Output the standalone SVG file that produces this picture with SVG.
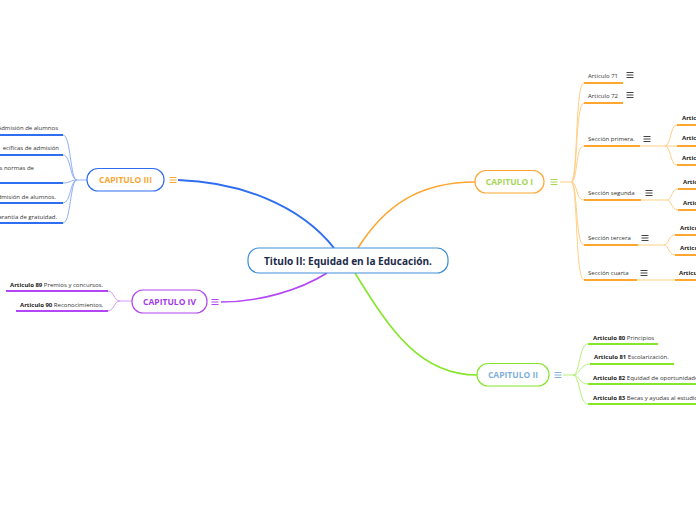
<svg xmlns="http://www.w3.org/2000/svg" width="696" height="520" viewBox="0 0 696 520">
<defs>
<style>
text{font-family:"Open Sans","Noto Sans","Liberation Sans",sans-serif;}
.t{font-size:6px;fill:#333;}
.b{font-weight:bold;fill:#222;}
.cap{font-size:8.5px;font-weight:bold;}
.ulO{stroke:#ffa630;stroke-width:2;fill:none;}
.lnO{stroke:#ffcf85;stroke-width:1;fill:none;}
.ulG{stroke:#86e62b;stroke-width:2;fill:none;}
.lnG{stroke:#b8f07a;stroke-width:1;fill:none;}
.ulB{stroke:#2f6ef0;stroke-width:2;fill:none;}
.lnB{stroke:#8fb0f5;stroke-width:1;fill:none;}
.ulP{stroke:#b347f5;stroke-width:2;fill:none;}
.lnP{stroke:#d49cf9;stroke-width:1;fill:none;}
.ic{stroke-width:1;fill:none;}
</style>
<g id="ham"><path d="M-3.5,-2.5h7M-3.5,0h7M-3.5,2.5h7"/></g>
</defs>
<rect width="696" height="520" fill="#fff"/>

<g id="connectors">
<path d="M334,248 C300,205 240,182 178,180" stroke="#2f6ef0" stroke-width="2" fill="none"/>
<path d="M358,248 C385,205 420,182 475,182" stroke="#ffa630" stroke-width="1.6" fill="none"/>
<path d="M327,273 C300,290 260,302 221,302" stroke="#b347f5" stroke-width="1.6" fill="none"/>
<path d="M355,273 C390,330 420,375 477,375" stroke="#86e62b" stroke-width="1.6" fill="none"/>
<path class="lnO" d="M560,182 H571"/>
<path class="lnO" d="M571,182 C578,182 575,83 584,83"/>
<path class="lnO" d="M571,182 C578,182 575,103 584,103"/>
<path class="lnO" d="M571,182 C578,182 575,146 584,146"/>
<path class="lnO" d="M571,182 C578,182 575,200 584,200"/>
<path class="lnO" d="M571,182 C578,182 575,245 584,245"/>
<path class="lnO" d="M571,182 C578,182 575,280 584,280"/>
<path class="lnO" d="M640,146 H665"/>
<path class="lnO" d="M665,146 C671,146 670,125 677,125"/>
<path class="lnO" d="M665,146 H677"/>
<path class="lnO" d="M665,146 C671,146 670,165 677,165"/>
<path class="lnO" d="M641,200 H667"/>
<path class="lnO" d="M667,200 C672,200 671,189 678,189"/>
<path class="lnO" d="M667,200 C672,200 671,210 678,210"/>
<path class="lnO" d="M638,245 H664"/>
<path class="lnO" d="M664,245 C669,245 668,235 675,235"/>
<path class="lnO" d="M664,245 C669,245 668,255 675,255"/>
<path class="lnO" d="M637,280 H675"/>
<path class="lnG" d="M563,375 H573"/>
<path class="lnG" d="M573,375 C580,375 579,344 588,344"/>
<path class="lnG" d="M573,375 C580,375 580,364 590,364"/>
<path class="lnG" d="M573,375 C580,375 579,384 588,384"/>
<path class="lnG" d="M573,375 C580,375 579,404 588,404"/>
<path class="lnB" d="M87,180 H77"/>
<path class="lnB" d="M77,180 C70,180 71,135 63,135"/>
<path class="lnB" d="M77,180 C70,180 71,155 63,155"/>
<path class="lnB" d="M77,180 C70,180 71,183 63,183"/>
<path class="lnB" d="M77,180 C70,180 71,203 63,203"/>
<path class="lnB" d="M77,180 C70,180 71,223 63,223"/>
<path class="lnP" d="M132,301 H120"/>
<path class="lnP" d="M120,301 C114,301 114,291 108,291"/>
<path class="lnP" d="M120,301 C114,301 114,311 108,311"/>
</g>

<g id="central">
<rect x="248" y="248" width="200" height="25" rx="11" fill="#fff" stroke="#3f8fd8" stroke-width="1.2"/>
<text x="348" y="264.5" text-anchor="middle" font-size="10" font-weight="bold" fill="#1b2a4a" textLength="168" lengthAdjust="spacingAndGlyphs">Titulo II: Equidad en la Educación.</text>
</g>

<g id="cap1">
<rect x="475" y="170.5" width="69" height="22.5" rx="11" fill="#fff" stroke="#ffa630" stroke-width="1.2"/>
<text class="cap" x="509.5" y="185" text-anchor="middle" fill="#a8d65a">CAPITULO I</text>
<use href="#ham" x="554" y="182" stroke="#a8d65a" class="ic"/>
</g>
<g id="a71"><text class="t" x="588" y="77.5">Articulo 71</text><path class="ulO" d="M584,83H623"/><use href="#ham" x="630" y="75" stroke="#444" class="ic"/></g>
<g id="a72"><text class="t" x="588" y="97.5">Articulo 72</text><path class="ulO" d="M584,103H623"/><use href="#ham" x="630" y="95" stroke="#444" class="ic"/></g>
<g id="s1"><text class="t" x="588" y="140.5">Sección primera.</text><path class="ulO" d="M584,146H640"/><use href="#ham" x="647" y="139" stroke="#444" class="ic"/></g>
<g id="s1a"><text class="t b" x="682" y="120">Artic</text><path class="ulO" d="M677,125H696"/></g>
<g id="s1b"><text class="t b" x="682" y="140">Artic</text><path class="ulO" d="M677,146H696"/></g>
<g id="s1c"><text class="t b" x="682" y="160">Artic</text><path class="ulO" d="M677,165H696"/></g>
<g id="s2"><text class="t" x="588" y="194.5">Sección segunda</text><path class="ulO" d="M584,200H641"/><use href="#ham" x="649" y="193" stroke="#444" class="ic"/></g>
<g id="s2a"><text class="t b" x="683" y="184">Artic</text><path class="ulO" d="M678,189H696"/></g>
<g id="s2b"><text class="t b" x="683" y="205">Artic</text><path class="ulO" d="M678,210H696"/></g>
<g id="s3"><text class="t" x="588" y="240">Sección tercera</text><path class="ulO" d="M584,245H638"/><use href="#ham" x="645" y="238" stroke="#444" class="ic"/></g>
<g id="s3a"><text class="t b" x="680" y="230">Articu</text><path class="ulO" d="M675,235H696"/></g>
<g id="s3b"><text class="t b" x="680" y="250">Articu</text><path class="ulO" d="M675,255H696"/></g>
<g id="s4"><text class="t" x="588" y="275">Sección cuarta</text><path class="ulO" d="M584,280H637"/><use href="#ham" x="644" y="273" stroke="#444" class="ic"/></g>
<g id="s4a"><text class="t b" x="679" y="275">Articu</text><path class="ulO" d="M675,280H696"/></g>

<g id="cap2">
<rect x="477" y="363.5" width="72" height="22.5" rx="11" fill="#fff" stroke="#86e62b" stroke-width="1.2"/>
<text class="cap" x="513" y="378" text-anchor="middle" fill="#7fb0dc">CAPITULO II</text>
<use href="#ham" x="558" y="375" stroke="#7fb0dc" class="ic"/>
</g>
<g id="a80"><text class="t" x="593" y="339.5"><tspan class="b">Articulo 80</tspan> Principios</text><path class="ulG" d="M588,344H658"/></g>
<g id="a81"><text class="t" x="594" y="359"><tspan class="b">Articulo 81</tspan> Escolarización.</text><path class="ulG" d="M590,364H674"/></g>
<g id="a82"><text class="t" x="593" y="379.5"><tspan class="b">Articulo 82</tspan> Equidad de oportunidade</text><path class="ulG" d="M588,384H696"/></g>
<g id="a83"><text class="t" x="593" y="399.5"><tspan class="b">Articulo 83</tspan> Becas y ayudas al estudio</text><path class="ulG" d="M588,404H696"/></g>

<g id="cap3">
<rect x="87" y="168.5" width="77" height="22.5" rx="11" fill="#fff" stroke="#2f6ef0" stroke-width="1.2"/>
<text class="cap" x="125.5" y="183" text-anchor="middle" fill="#f5a735">CAPITULO III</text>
<use href="#ham" x="173" y="180" stroke="#f5a735" class="ic"/>
</g>
<g id="c3a"><text class="t" x="58" y="130" text-anchor="end">Admisión de alumnos</text><path class="ulB" d="M0,135H63"/></g>
<g id="c3b"><text class="t" x="59" y="150" text-anchor="end">ecíficas de admisión</text><path class="ulB" d="M0,155H63"/></g>
<g id="c3c"><text class="t" x="34" y="170" text-anchor="end">s normas de</text><path class="ulB" d="M0,183H63"/></g>
<g id="c3d"><text class="t" x="56" y="199" text-anchor="end">dmisión de alumnos.</text><path class="ulB" d="M0,203H63"/></g>
<g id="c3e"><text class="t" x="57" y="219" text-anchor="end">arantía de gratuidad.</text><path class="ulB" d="M0,223H63"/></g>

<g id="cap4">
<rect x="132" y="290" width="75" height="23" rx="11" fill="#fff" stroke="#b347f5" stroke-width="1.2"/>
<text class="cap" x="169.5" y="304.5" text-anchor="middle" fill="#a33de8">CAPITULO IV</text>
<use href="#ham" x="215" y="302" stroke="#b347f5" class="ic"/>
</g>
<g id="a89"><text class="t" x="10" y="287"><tspan class="b">Articulo 89</tspan> Premios y concursos.</text><path class="ulP" d="M6,291H108"/></g>
<g id="a90"><text class="t" x="20" y="306.5"><tspan class="b">Articulo 90</tspan> Reconocimientos.</text><path class="ulP" d="M16,311H108"/></g>
</svg>
